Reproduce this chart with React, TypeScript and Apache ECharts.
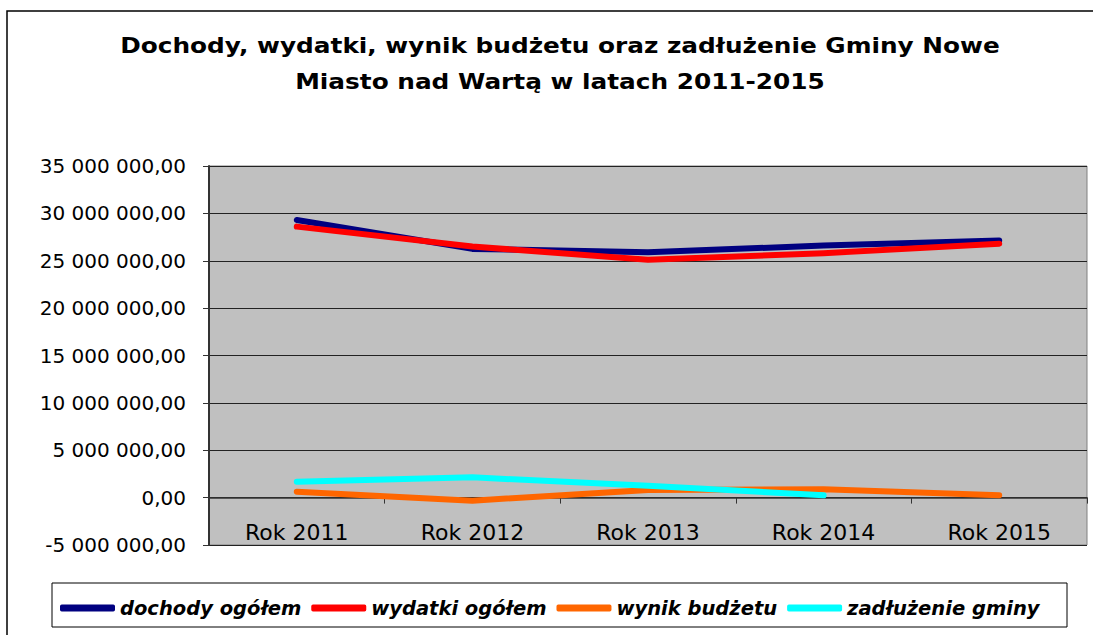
import React, { useEffect, useRef } from "react";
import * as echarts from "echarts";

const categories = ["Rok 2011", "Rok 2012", "Rok 2013", "Rok 2014", "Rok 2015"];
const dochody = [29300000, 26250000, 25900000, 26600000, 27150000];
const wydatki = [28600000, 26500000, 25100000, 25800000, 26800000];
const wynik = [630000, -320000, 810000, 880000, 250000];
const zadluzenie: (number | null)[] = [1680000, 2140000, 1260000, 240000, null];
const titleLines = [
  "Dochody, wydatki, wynik budżetu oraz zadłużenie Gminy Nowe",
  "Miasto nad Wartą w latach 2011-2015",
];

const fmt = (v: number) =>
  (v < 0 ? "-" : "") +
  Math.abs(v)
    .toString()
    .replace(/\B(?=(\d{3})+(?!\d))/g, " ") +
  ",00";

export default function App() {
  const ref = useRef<HTMLDivElement>(null);
  useEffect(() => {
    if (!ref.current) return;
    const chart = echarts.init(ref.current, undefined, { renderer: "svg" });
    const mk = (name: string, data: (number | null)[], color: string) => ({
      name,
      type: "line",
      data,
      symbol: "none",
      connectNulls: false,
      lineStyle: { color, width: 6, cap: "round", join: "round" },
      itemStyle: { color },
    });
    chart.setOption({
      animation: false,
      backgroundColor: "#ffffff",
      graphic: [
        {
          type: "rect",
          shape: { x: 7, y: 11, width: 1200, height: 700 },
          style: { fill: "none", stroke: "#000", lineWidth: 1.5 },
          z: -1,
        },
        {
          type: "rect",
          shape: { x: 52, y: 583, width: 1015, height: 44 },
          style: { fill: "#fff", stroke: "#000", lineWidth: 1 },
          z: 0,
        },
        {
          type: "text",
          x: 560,
          y: 46,
          scaleX: 1.18,
          style: {
            text: titleLines[0],
            font: "bold 21px 'DejaVu Sans'",
            fill: "#000",
            align: "center",
            verticalAlign: "middle",
          },
        },
        {
          type: "text",
          x: 560,
          y: 82,
          scaleX: 1.18,
          style: {
            text: titleLines[1],
            font: "bold 21px 'DejaVu Sans'",
            fill: "#000",
            align: "center",
            verticalAlign: "middle",
          },
        },
      ],
      legend: {
        left: 55,
        top: 593,
        itemWidth: 55,
        itemHeight: 7,
        itemGap: 10,
        icon: "roundRect",
        textStyle: {
          fontFamily: "DejaVu Sans",
          fontWeight: "bold",
          fontStyle: "italic",
          fontSize: 19.5,
          color: "#000",
        },
        z: 5,
      },
      grid: {
        left: 209,
        top: 166,
        right: 6,
        bottom: 90,
        show: true,
        backgroundColor: "#C0C0C0",
        borderColor: "#808080",
        borderWidth: 1,
      },
      xAxis: {
        type: "category",
        data: categories,
        boundaryGap: true,
        offset: -47.4,
        axisLine: { onZero: false, lineStyle: { color: "#333", width: 1.5 } },
        axisTick: { show: true, length: 6, lineStyle: { color: "#333" } },
        axisLabel: {
          margin: 24,
          fontFamily: "DejaVu Sans",
          fontSize: 22,
          color: "#000",
        },
      },
      yAxis: {
        type: "value",
        min: -5000000,
        max: 35000000,
        interval: 5000000,
        axisLine: { show: true, lineStyle: { color: "#333", width: 2 } },
        axisTick: { show: true, length: 6, lineStyle: { color: "#333" } },
        splitLine: { show: true, lineStyle: { color: "#222", width: 1 } },
        axisLabel: {
          margin: 23,
          formatter: fmt,
          fontFamily: "DejaVu Sans",
          fontSize: 20,
          color: "#000",
        },
      },
      series: [
        mk("dochody ogółem", dochody, "#000080"),
        mk("wydatki ogółem", wydatki, "#FF0000"),
        mk("wynik budżetu", wynik, "#FF6600"),
        mk("zadłużenie gminy", zadluzenie, "#00FFFF"),
      ],
    });
    return () => chart.dispose();
  }, []);
  return (
    <div
      ref={ref}
      style={{ position: "fixed", left: 0, top: 0, width: 1093, height: 635 }}
    />
  );
}
